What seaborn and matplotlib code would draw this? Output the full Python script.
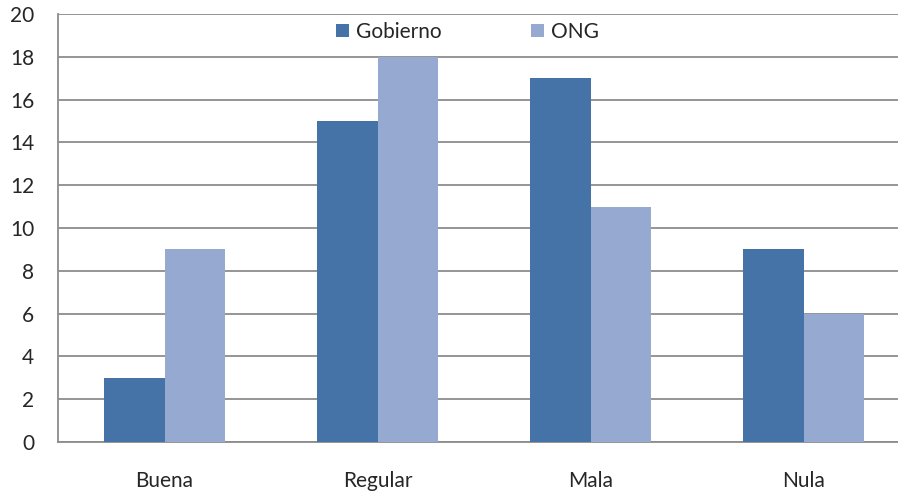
import pandas as pd
import matplotlib.pyplot as plt
import seaborn as sns

categorias = ["Buena", "Regular", "Mala", "Nula"]
gobierno = [3, 15, 17, 9]
ong = [9, 18, 11, 6]
series = ["Gobierno", "ONG"]
colores = ["#4573A7", "#95A9D1"]

df = pd.DataFrame({
    "categoria": categorias * 2,
    "valor": gobierno + ong,
    "serie": [series[0]] * len(categorias) + [series[1]] * len(categorias),
})

sns.set_style("white")
plt.rcParams['font.family'] = ['Lato', 'DejaVu Sans']

fig = plt.figure(figsize=(8.98, 4.95), dpi=100)
# el area de trazado sigue mas alla del borde derecho (recortada como en el original)
ax = fig.add_axes([58 / 898, 53 / 495, 852 / 898, 428 / 495])

sns.barplot(data=df, x="categoria", y="valor", hue="serie", palette=colores,
            saturation=1, width=0.568, linewidth=0, ax=ax, zorder=3)

ax.set_ylim(0, 20)
ax.set_xlim(-0.5, 3.5)
ax.set_yticks(range(0, 21, 2))
ax.yaxis.grid(True, color="#8c8c8c", linewidth=1.3)
ax.set_axisbelow(True)
ax.set_xlabel("")
ax.set_ylabel("")

for s in ["top", "right"]:
    ax.spines[s].set_visible(False)
for s in ["left", "bottom"]:
    ax.spines[s].set_color("#8c8c8c")
    ax.spines[s].set_linewidth(1.3)

ax.tick_params(axis="y", length=6, width=1.3, color="#8c8c8c", labelsize=15, pad=11)
ax.tick_params(axis="x", length=0, labelsize=15, pad=21)

handles, labels = ax.get_legend_handles_labels()
ax.legend(handles, labels, loc="center", bbox_to_anchor=(0.481, 0.958), ncol=2,
          frameon=False, fontsize=15, handlelength=0.6, handleheight=0.6,
          handletextpad=0.35, columnspacing=4.3, borderaxespad=0)

fig.savefig("out.png", dpi=100)
